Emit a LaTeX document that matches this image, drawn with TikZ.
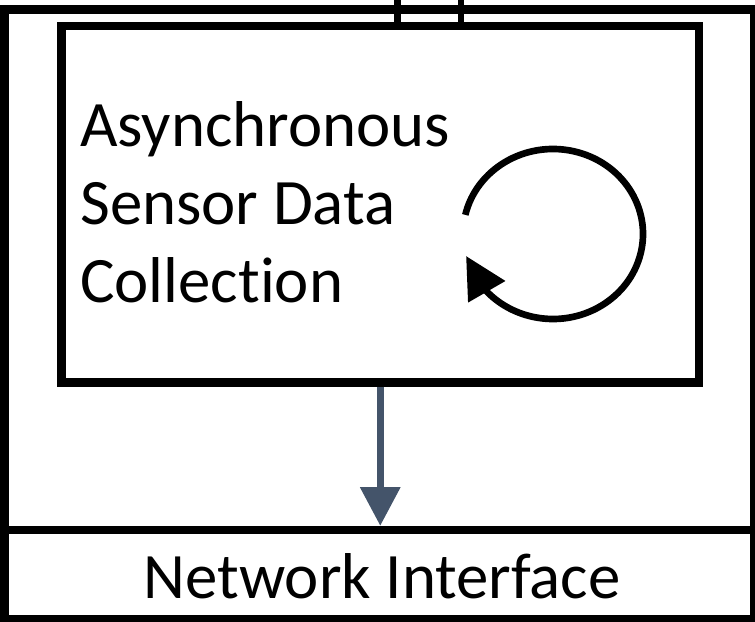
\documentclass[tikz,border=0pt]{standalone}
\usepackage{fontspec}
\setmainfont{Carlito}[Ligatures=NoCommon]
\usepackage{tikz}
\usetikzlibrary{positioning,fit,arrows.meta,bending}
\definecolor{flowgray}{HTML}{44546A}

\begin{document}
\begin{tikzpicture}[x=0.75pt, y=0.75pt, box/.style={draw,line width=6.2pt,inner sep=0pt}, lbl/.style={font=\fontsize{48.6}{58.5}\selectfont,inner sep=0pt}]
            \useasboundingbox (0,0) rectangle (755,621);
            \coordinate (o1) at (4.5,2);
            \coordinate (o2) at (754,611.5);
            \coordinate (i1) at (61.5,238.5);
            \coordinate (i2) at (699,595);
            \coordinate (n2) at (754,91);
            \coordinate (w1) at (397.5,621);
            \coordinate (w2) at (461,621);
            \coordinate (loopc) at (553,387);

            \node[box,fit= (o1) (o2)] (outer) {};
            \node[box,fit= (i1) (i2)] (collect) {};
            \node[box,fit= (o1) (n2)] (netif) {};

            \node[lbl,align=left,anchor=base west] (title) at (80,318) {Asynchronous\\Sensor Data\\Collection};
            \node[lbl,anchor=base] (nettext) at (382,23) {Network Interface};

            \draw[line width=4.7pt] (w1) -- (w1 |- collect.north);
            \draw[line width=4.7pt] (w2) -- (w2 |- collect.north);
            \draw[line width=5.5pt,flowgray,-{Triangle[length=29pt,width=29pt]}] (collect.south) -- (collect.south |- netif.north);
            \draw[line width=5pt,-{Triangle[length=31pt,width=31pt,flex]}] (loopc) ++(167:90 and 85) arc[start angle=167, end angle=-165, x radius=90, y radius=85];
          \end{tikzpicture}
\end{document}
